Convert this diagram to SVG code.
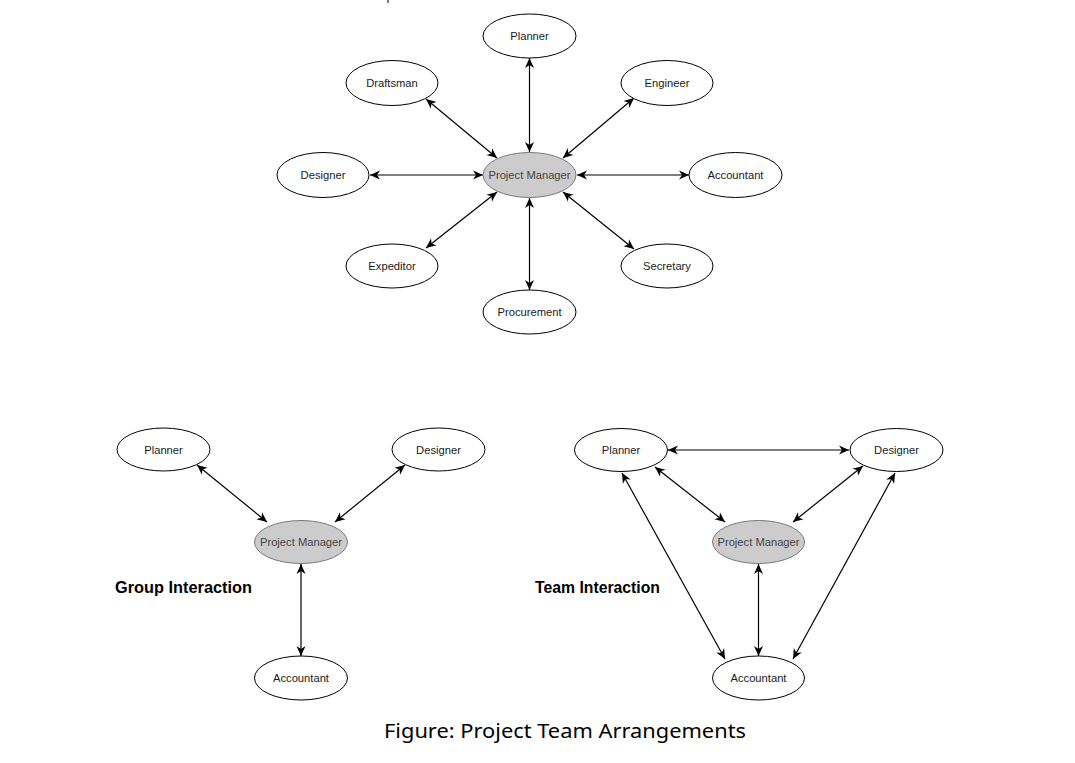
<svg xmlns="http://www.w3.org/2000/svg" width="1075" height="763" viewBox="0 0 1075 763">
<style>
.n ellipse{fill:#fff;stroke:#000;stroke-width:1}
.pm ellipse{fill:#cccccc;stroke:#7a7a7a;stroke-width:1}
.n text{font-family:"Liberation Sans",Arial,sans-serif;font-size:11.2px;fill:#1a1a1a;text-anchor:middle;dominant-baseline:central}
.pm text{fill:#444}
.e line{stroke:#000;stroke-width:1.2;marker-start:url(#ah);marker-end:url(#ah)}
.lbl{font-family:"Liberation Sans",Arial,sans-serif;font-weight:bold;font-size:16px;fill:#000}
.cap{font-family:"Noto Sans","Open Sans",sans-serif;font-size:19px;fill:#000}
</style>
<defs>
<marker id="ah" viewBox="0 0 10 10" refX="10" refY="5" markerWidth="10" markerHeight="10" markerUnits="userSpaceOnUse" orient="auto-start-reverse">
<path d="M0,0.5 L10,5 L0,9.5 L3,5 z" fill="#000"/>
</marker>
</defs>
<rect width="1075" height="763" fill="#fff"/>
<line x1="388" y1="0" x2="388" y2="3" stroke="#000" stroke-width="1"/>

<g id="connectors" class="e">
<line x1="529.5" y1="58" x2="529.5" y2="152"/>
<line x1="426" y1="99" x2="497" y2="158"/>
<line x1="634" y1="98" x2="563" y2="158"/>
<line x1="370" y1="175" x2="483" y2="175"/>
<line x1="577" y1="175" x2="689" y2="175"/>
<line x1="426" y1="248" x2="497" y2="192"/>
<line x1="563" y1="192" x2="634" y2="249"/>
<line x1="529.5" y1="198" x2="529.5" y2="290"/>

<line x1="197" y1="465" x2="267" y2="522"/>
<line x1="405" y1="465" x2="335" y2="522"/>
<line x1="301" y1="564" x2="301" y2="656"/>

<line x1="668" y1="450" x2="849" y2="450"/>
<line x1="655" y1="467" x2="725" y2="522"/>
<line x1="863" y1="466" x2="793" y2="522"/>
<line x1="758.5" y1="564" x2="758.5" y2="656"/>
<line x1="622" y1="473" x2="725" y2="659"/>
<line x1="895" y1="473" x2="793" y2="659"/>
</g>

<g id="t-planner" class="n"><ellipse cx="529.5" cy="36" rx="46.5" ry="22"/><text x="529.5" y="36">Planner</text></g>
<g id="t-draftsman" class="n"><ellipse cx="392" cy="83" rx="46" ry="22.5"/><text x="392" y="83">Draftsman</text></g>
<g id="t-engineer" class="n"><ellipse cx="667" cy="83" rx="46" ry="22.5"/><text x="667" y="83">Engineer</text></g>
<g id="t-designer" class="n"><ellipse cx="323" cy="175" rx="46" ry="22.5"/><text x="323" y="175">Designer</text></g>
<g id="t-pm" class="n pm"><ellipse cx="529.5" cy="175" rx="46.5" ry="22.5"/><text x="529.5" y="175">Project Manager</text></g>
<g id="t-accountant" class="n"><ellipse cx="735.5" cy="175" rx="46.5" ry="22.5"/><text x="735.5" y="175">Accountant</text></g>
<g id="t-expeditor" class="n"><ellipse cx="392" cy="266" rx="46" ry="22"/><text x="392" y="266">Expeditor</text></g>
<g id="t-secretary" class="n"><ellipse cx="667" cy="266" rx="46" ry="22"/><text x="667" y="266">Secretary</text></g>
<g id="t-procurement" class="n"><ellipse cx="529.5" cy="312" rx="46.5" ry="22"/><text x="529.5" y="312">Procurement</text></g>

<g id="g-planner" class="n"><ellipse cx="163.5" cy="449.5" rx="46.5" ry="21.5"/><text x="163.5" y="449.5">Planner</text></g>
<g id="g-designer" class="n"><ellipse cx="438.5" cy="449.5" rx="46.5" ry="21.5"/><text x="438.5" y="449.5">Designer</text></g>
<g id="g-pm" class="n pm"><ellipse cx="301" cy="542" rx="46.5" ry="21.5"/><text x="301" y="542">Project Manager</text></g>
<g id="g-accountant" class="n"><ellipse cx="301" cy="678" rx="46.5" ry="22"/><text x="301" y="678">Accountant</text></g>
<text class="lbl" x="115" y="593" textLength="137" lengthAdjust="spacingAndGlyphs">Group Interaction</text>

<g id="r-planner" class="n"><ellipse cx="621" cy="450" rx="46.5" ry="21.5"/><text x="621" y="450">Planner</text></g>
<g id="r-designer" class="n"><ellipse cx="896.5" cy="450" rx="46.5" ry="21.5"/><text x="896.5" y="450">Designer</text></g>
<g id="r-pm" class="n pm"><ellipse cx="758.5" cy="542" rx="46" ry="21.5"/><text x="758.5" y="542">Project Manager</text></g>
<g id="r-accountant" class="n"><ellipse cx="758.5" cy="678" rx="46" ry="22"/><text x="758.5" y="678">Accountant</text></g>
<text class="lbl" x="535" y="593" textLength="125" lengthAdjust="spacingAndGlyphs">Team Interaction</text>

<text class="cap" x="384" y="738" textLength="362" lengthAdjust="spacingAndGlyphs">Figure: Project Team Arrangements</text>
</svg>
